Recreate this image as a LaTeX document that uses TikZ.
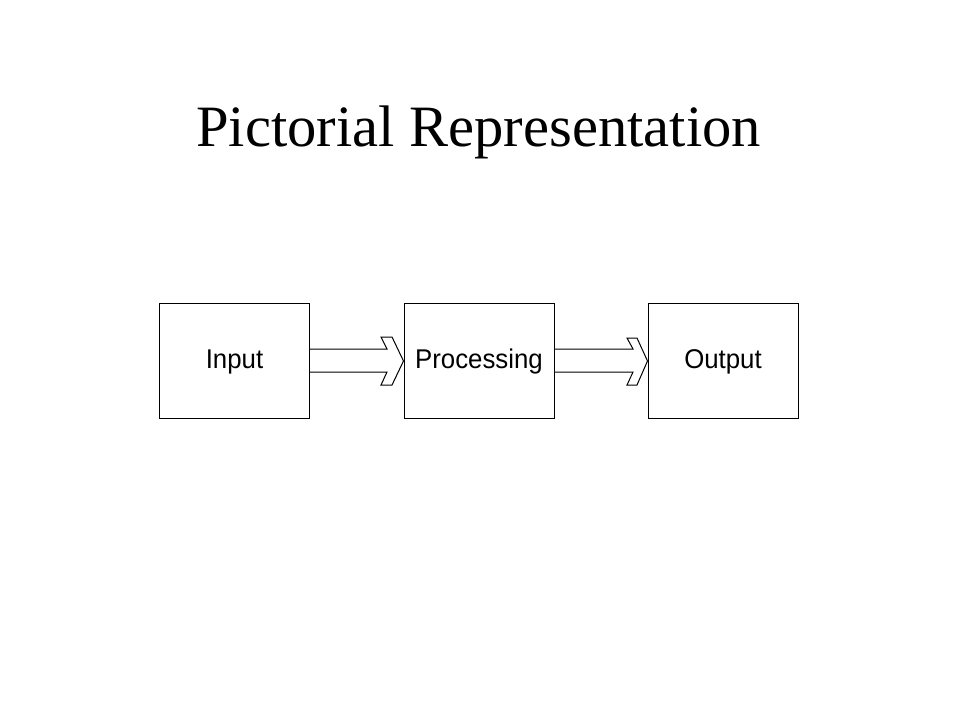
\documentclass[tikz,border=0pt]{standalone}
\usepackage{fontspec}
\usepackage{graphicx}
\setmainfont{Liberation Serif}
\newfontfamily\boxfont{Liberation Sans}
\newcommand{\blocktext}[1]{\scalebox{1}[1.05]{#1}}
\begin{document}
\begin{tikzpicture}[x=1pt,y=-1pt,
  blockbox/.style={draw=black,line width=1pt,minimum width=150pt,minimum height=115pt,inner sep=0pt,text height=19pt,text depth=4pt,font=\boxfont\fontsize{25.8}{30}\selectfont},
  arrowline/.style={draw=black,line width=1pt,line join=miter}]
\useasboundingbox (0,0) rectangle (960,720);
\node[font=\fontsize{58.6}{70}\selectfont,anchor=base] (title) at (478.5,146) {Pictorial Representation};
\node[blockbox] (in) at (234.5,360.5) {\blocktext{Input}};
\node[blockbox] (proc) at (479,360.5) {\blocktext{Processing}};
\node[blockbox] (out) at (723,360.5) {\blocktext{Output}};
% arrow 1
\draw[arrowline] (in.east |- 0,349) -- (387,349) -- (381,337) -- (392,337) -- (proc.west |- 0,361)
  -- (392,385) -- (381,385) -- (387,372) -- (in.east |- 0,372);
% arrow 2
\draw[arrowline] (proc.east |- 0,349) -- (633,349) -- (627,338) -- (637,338) -- (out.west |- 0,361)
  -- (637,385) -- (627,385) -- (633,372) -- (proc.east |- 0,372);
\end{tikzpicture}
\end{document}
